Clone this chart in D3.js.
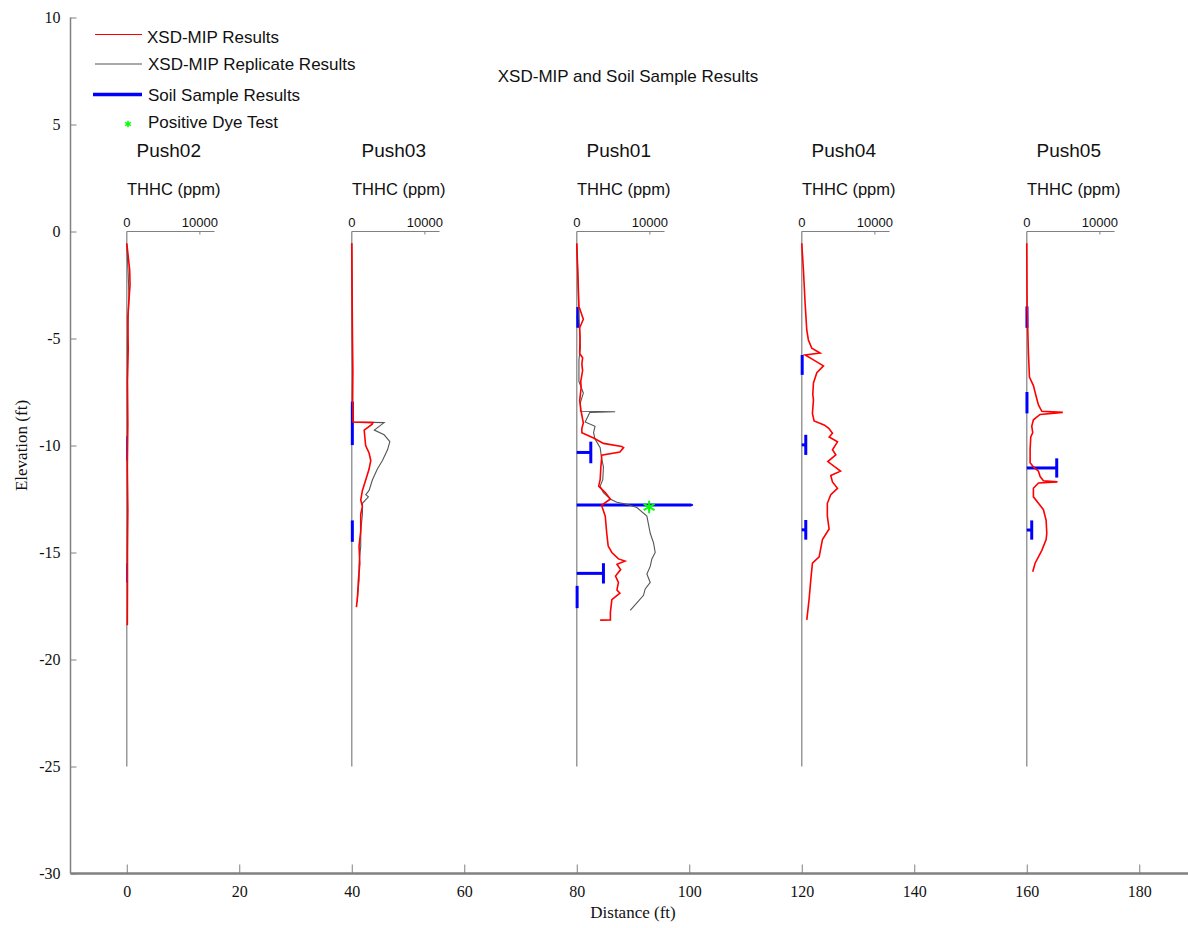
<!DOCTYPE html>
<html><head><meta charset="utf-8">
<script src="https://cdn.jsdelivr.net/npm/d3@7"></script>
<style>body{margin:0;background:#fff} svg{display:block}</style>
</head><body><svg id="c" width="1188" height="928"></svg>
<script>
// ---------------- DATA ----------------
const xTicks = [0, 20, 40, 60, 80, 100, 120, 140, 160, 180];
const yTicks = [10, 5, 0, -5, -10, -15, -20, -25, -30];
const pushNames = ["Push02", "Push03", "Push01", "Push04", "Push05"];
const pushDistances = [0, 40, 80, 120, 160];
const thhcTicks = [0, 10000];
const pushBottom = -25;

// [elevation ft, THHC ppm]
const push02Xsd = [[-0.55,0],[-1.0,150],[-1.8,400],[-2.5,450],[-3.2,300],[-4,150],[-5.5,200],[-7,100],[-9,150],[-11,80],[-13,150],[-15,100],[-16.5,100],[-18.4,80]];
const push02Rep = [[-0.6,0],[-2,200],[-3,300],[-5,100],[-8,80],[-11,100],[-14,80],[-16,60]];
const push03Xsd = [[-0.55,0],[-3,50],[-5,100],[-6.5,150],[-7.9,100],[-8.9,200],[-8.93,2900],[-9.0,2800],[-9.28,1700],[-10.0,1900],[-10.35,2370],[-10.7,2600],[-11.1,2370],[-11.6,1920],[-12.1,1460],[-12.55,1230],[-12.85,1460],[-13.2,1230],[-14.0,1230],[-14.7,1000],[-15.5,1100],[-16.3,910],[-17.1,780],[-17.55,640]];
const push03Rep = [[-0.55,0],[-3,50],[-6,100],[-8.9,150],[-8.93,4430],[-9.28,3080],[-9.5,4430],[-9.82,5210],[-10.2,4890],[-10.7,4200],[-11.1,3500],[-11.6,2830],[-12.1,2370],[-12.3,1920],[-12.4,2280],[-12.7,1460],[-13.2,1460],[-14.0,1230],[-14.7,1230],[-15.5,1000],[-16.3,1000],[-17.1,780],[-17.3,780]];
const push01Xsd = [[-0.55,0],[-1.5,100],[-2.5,200],[-3.5,300],[-4.1,900],[-4.5,400],[-5.0,450],[-5.7,400],[-5.9,800],[-6.2,700],[-6.5,800],[-7.0,550],[-7.3,600],[-7.9,400],[-8.4,600],[-8.95,900],[-9.2,700],[-9.4,700],[-9.65,2300],[-9.9,3650],[-10.05,6150],[-10.1,6400],[-10.3,5900],[-10.45,3400],[-10.6,3400],[-11.0,3300],[-11.6,3200],[-11.9,3000],[-12.2,3900],[-12.5,4600],[-12.8,3400],[-13.3,3900],[-14.1,4100],[-14.7,4300],[-15.0,4800],[-15.3,5700],[-15.4,6600],[-15.55,5500],[-15.8,6000],[-16.1,5300],[-16.4,5700],[-16.75,5500],[-16.9,5900],[-17.2,4800],[-17.8,4600],[-18.15,4600],[-18.16,3200]];
const push01Rep = [[-0.6,0],[-2,150],[-4,300],[-5.4,500],[-6,300],[-7.0,300],[-7.55,900],[-8.0,500],[-8.4,500],[-8.42,5250],[-8.45,1800],[-8.9,1150],[-9.1,2500],[-9.4,2300],[-9.7,2500],[-10.1,3200],[-10.6,3400],[-11.0,3650],[-11.6,3560],[-11.9,3200],[-12.2,3650],[-12.5,4570],[-12.65,5480],[-12.75,6850],[-12.9,8220],[-13.3,9590],[-14.1,10050],[-14.55,10500],[-15.0,10730],[-15.3,10270],[-15.65,10050],[-16.0,9590],[-16.4,10050],[-16.7,9360],[-17.0,9130],[-17.35,8220],[-17.7,7310]];
const push04Xsd = [[-0.55,0],[-1.8,230],[-3.35,460],[-4.6,685],[-5.07,910],[-5.45,1370],[-5.68,2510],[-5.77,460],[-6.0,1600],[-6.28,2970],[-6.6,2060],[-7.08,1600],[-7.6,1510],[-7.87,1600],[-8.5,1460],[-8.85,1690],[-9.04,3060],[-9.2,3700],[-9.43,4200],[-9.6,3750],[-9.83,4890],[-10.2,4200],[-10.44,4660],[-10.75,3560],[-11.2,5300],[-11.4,3970],[-11.7,4200],[-12.0,4890],[-12.3,3970],[-12.7,3500],[-13.3,3500],[-13.9,3740],[-14.4,2830],[-15.2,2380],[-15.5,1460],[-16.3,1230],[-17.2,1000],[-18.15,690]];
const push05Xsd = [[-0.55,0],[-2,20],[-3.5,50],[-4.6,140],[-5.7,230],[-6.8,370],[-7.2,910],[-7.7,1280],[-8.1,1600],[-8.4,2060],[-8.45,4930],[-8.55,1830],[-8.8,910],[-9.1,685],[-9.4,820],[-9.6,550],[-10.2,460],[-10.8,460],[-11.0,910],[-11.2,1600],[-11.45,1830],[-11.65,2280],[-11.7,4200],[-11.75,1600],[-12.0,910],[-12.4,910],[-12.7,1600],[-13.0,2280],[-13.5,2650],[-14.1,2740],[-14.4,2650],[-14.9,2060],[-15.2,1600],[-15.5,1140],[-15.9,820]];

const xsdSeries = [push02Xsd, push03Xsd, push01Xsd, push04Xsd, push05Xsd];
const repSeries = [push02Rep, push03Rep, push01Rep, null, null];

// soil samples: [top elev, bottom elev, THHC ppm]
const push02Soil = [[-9.57,-10.7,50],[-15.5,-16.4,50]];
const push03Soil = [[-7.95,-9.98,80],[-13.5,-14.5,80]];
const push01Soil = [[-3.53,-4.5,150],[-9.82,-10.83,1920],[-12.74,-12.82,15700],[-15.5,-16.45,3650],[-16.56,-17.6,50]];
const push04Soil = [[-5.77,-6.7,60],[-9.5,-10.44,550],[-13.48,-14.4,550]];
const push05Soil = [[-3.5,-4.5,30],[-7.5,-8.5,30],[-10.6,-11.5,4100],[-13.5,-14.4,680]];
const soilSeries = [push02Soil, push03Soil, push01Soil, push04Soil, push05Soil];

// positive dye test: [push index, elevation, ppm]
const dyeTests = [[2, -12.87, 9900]];

const legendLabels = ["XSD-MIP Results", "XSD-MIP Replicate Results", "Soil Sample Results", "Positive Dye Test"];
const titleText = "XSD-MIP and Soil Sample Results";

// ---------------- CHART ----------------
const svg = d3.select("#c");
const sans = "Arial, 'Liberation Sans', Helvetica, sans-serif";
const serif = "'Times New Roman', 'Liberation Serif', serif";
const axisGray = "#808080";

const x = d3.scaleLinear().domain([-10, 190]).range([70.5, 1195.5]);
const y = d3.scaleLinear().domain([-30, 10]).range([873.5, 17.5]);
const mini = d3.scaleLinear().domain([0, 12000]).range([0, 15.6]); // ppm -> ft offset

// main y axis
const yAxis = d3.axisLeft(y).tickValues(yTicks).tickSize(-6).tickPadding(10).tickFormat(d => String(d));
const gy = svg.append("g").attr("transform", `translate(${x(-10)},0)`).call(yAxis);
gy.select(".domain").attr("stroke", axisGray).attr("stroke-width", 1.5).attr("d", `M0,${y(10)}V${y(-30)}`);
gy.selectAll(".tick line").attr("stroke", axisGray);
gy.selectAll(".tick text").attr("font-family", serif).attr("font-size", 16).attr("fill", "#111");

// main x axis
const xAxis = d3.axisBottom(x).tickValues(xTicks).tickSize(-9).tickPadding(12).tickFormat(d => String(d));
const gx = svg.append("g").attr("transform", `translate(0,${y(-30)})`).call(xAxis);
gx.select(".domain").attr("stroke", axisGray).attr("stroke-width", 2.5).attr("d", `M${x(-10)},0H${x(190)}`);
gx.selectAll(".tick line").attr("stroke", axisGray);
gx.selectAll(".tick text").attr("font-family", serif).attr("font-size", 16).attr("fill", "#111");

svg.append("text").attr("x", x(90)).attr("y", 918).attr("text-anchor", "middle")
  .attr("font-family", serif).attr("font-size", 17).attr("fill", "#111").text("Distance (ft)");
svg.append("text").attr("transform", `translate(27,${y(-10)}) rotate(-90)`).attr("text-anchor", "middle")
  .attr("font-family", serif).attr("font-size", 17).attr("fill", "#111").text("Elevation (ft)");

svg.append("text").attr("x", 628).attr("y", 82).attr("text-anchor", "middle")
  .attr("font-family", sans).attr("font-size", 17).attr("fill", "#111").text(titleText);

// push panels
const lineGen = (dist) => d3.line().x(d => x(dist + mini(d[1]))).y(d => y(d[0]));

pushDistances.forEach((dist, i) => {
  const g = svg.append("g");
  const x0 = x(dist);
  g.append("line").attr("x1", x0).attr("x2", x0).attr("y1", y(0)).attr("y2", y(pushBottom))
    .attr("stroke", "#999").attr("stroke-width", 1.5);
  g.append("line").attr("x1", x0).attr("x2", x(dist + mini(12000))).attr("y1", y(0)).attr("y2", y(0))
    .attr("stroke", axisGray).attr("stroke-width", 1.2);
  thhcTicks.forEach(t => {
    const tx = x(dist + mini(t));
    if (t > 0) g.append("line").attr("x1", tx).attr("x2", tx).attr("y1", y(0)).attr("y2", y(0) + 3).attr("stroke", axisGray);
    g.append("text").attr("x", tx).attr("y", 226.5).attr("text-anchor", "middle")
      .attr("font-family", sans).attr("font-size", 13).attr("fill", "#111").text(t);
  });
  g.append("text").attr("x", x0 + 42).attr("y", 156.5).attr("text-anchor", "middle")
    .attr("font-family", sans).attr("font-size", 19).attr("fill", "#111").text(pushNames[i]);
  g.append("text").attr("x", x0 + 47).attr("y", 195).attr("text-anchor", "middle")
    .attr("font-family", sans).attr("font-size", 16.5).attr("fill", "#111").text("THHC (ppm)");

  soilSeries[i].forEach(s => {
    const mid = (s[0] + s[1]) / 2;
    const xe = x(dist + mini(s[2]));
    g.append("line").attr("x1", x0).attr("x2", xe).attr("y1", y(mid)).attr("y2", y(mid))
      .attr("stroke", "#0000ff").attr("stroke-width", 3);
    g.append("line").attr("x1", xe).attr("x2", xe).attr("y1", y(s[0])).attr("y2", y(s[1]))
      .attr("stroke", "#0000ff").attr("stroke-width", i === 0 ? 1.5 : 3);
  });

  if (repSeries[i]) g.append("path").datum(repSeries[i]).attr("d", lineGen(dist))
    .attr("fill", "none").attr("stroke", "#555").attr("stroke-width", 1.1);
  g.append("path").datum(xsdSeries[i]).attr("d", lineGen(dist))
    .attr("fill", "none").attr("stroke", "#ff0000").attr("stroke-width", 1.6);
});

// dye tests
const star = d3.symbol().type(d3.symbolAsterisk);
dyeTests.forEach(d => {
  svg.append("path").attr("d", star.size(110)())
    .attr("transform", `translate(${x(pushDistances[d[0]] + mini(d[2]))},${y(d[1])})`)
    .attr("fill", "none").attr("stroke", "#00ff00").attr("stroke-width", 2);
});

// legend
const leg = svg.append("g");
const rowsY = [34.5, 64, 94.5, 124];
const textY = [42.5, 69.5, 101, 127.5];
const legStyles = [["#ff0000", 1.2], ["#555", 1.2], ["#0000ff", 3.5]];
legStyles.forEach((s, i) => {
  leg.append("line").attr("x1", i === 2 ? 93 : 95).attr("x2", 142).attr("y1", rowsY[i]).attr("y2", rowsY[i])
    .attr("stroke", s[0]).attr("stroke-width", s[1]);
});
leg.append("path").attr("d", star.size(30)()).attr("transform", `translate(128,${rowsY[3]})`)
  .attr("fill", "none").attr("stroke", "#00ff00").attr("stroke-width", 1.5);
legendLabels.forEach((t, i) => {
  leg.append("text").attr("x", i === 0 ? 147 : 148).attr("y", textY[i])
    .attr("font-family", sans).attr("font-size", 17).attr("fill", "#111").text(t);
});
</script>
</body></html>
